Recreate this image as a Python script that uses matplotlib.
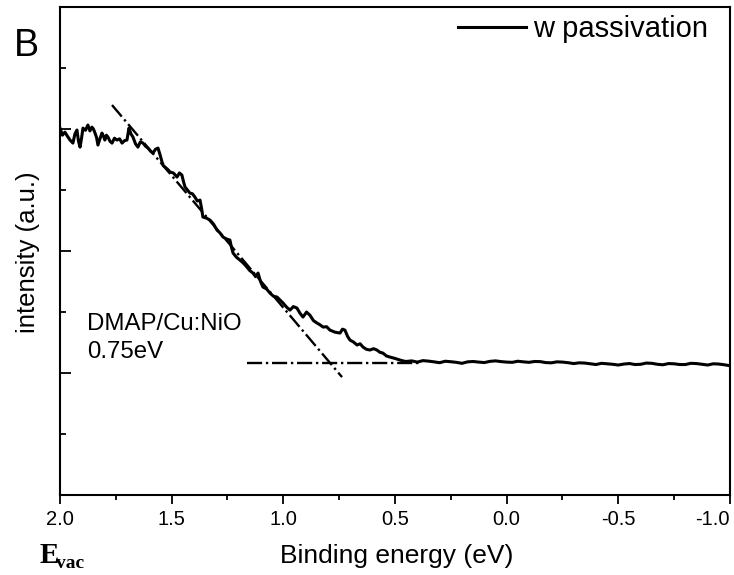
import matplotlib
matplotlib.use('Agg')
import matplotlib.pyplot as plt
from matplotlib.ticker import MultipleLocator, NullFormatter, FormatStrFormatter

plt.rcParams['font.family'] = ['Liberation Sans', 'DejaVu Sans']
plt.rcParams['axes.unicode_minus'] = False

# spectrum: binding energy (eV) and intensity (a.u.)
energy = [2.000, 1.989, 1.978, 1.966, 1.955, 1.942, 1.933, 1.924, 1.917, 1.910,
          1.903, 1.897, 1.886, 1.875, 1.866, 1.857, 1.850, 1.843, 1.836, 1.830,
          1.821, 1.812, 1.805, 1.799, 1.792, 1.785, 1.776, 1.767, 1.756, 1.745,
          1.733, 1.722, 1.711, 1.700, 1.691, 1.682, 1.673, 1.662, 1.651, 1.640,
          1.628, 1.617, 1.606, 1.595, 1.584, 1.572, 1.561, 1.552, 1.543, 1.537,
          1.530, 1.518, 1.507, 1.492, 1.476, 1.465, 1.454, 1.447, 1.440, 1.429,
          1.418, 1.407, 1.396, 1.385, 1.373, 1.366, 1.360, 1.344, 1.328, 1.312,
          1.297, 1.284, 1.270, 1.255, 1.239, 1.232, 1.225, 1.210, 1.194, 1.178,
          1.163, 1.150, 1.136, 1.124, 1.113, 1.102, 1.091, 1.075, 1.060, 1.044,
          1.028, 1.015, 1.001, 0.985, 0.970, 0.955, 0.939, 0.925, 0.912, 0.896,
          0.881, 0.865, 0.849, 0.835, 0.822, 0.806, 0.791, 0.768, 0.746, 0.735,
          0.724, 0.712, 0.701, 0.686, 0.670, 0.656, 0.643, 0.628, 0.612, 0.596,
          0.581, 0.567, 0.554, 0.538, 0.522, 0.500, 0.478, 0.460, 0.450, 0.425,
          0.400, 0.375, 0.350, 0.325, 0.300, 0.275, 0.250, 0.225, 0.200, 0.175,
          0.150, 0.125, 0.100, 0.075, 0.050, 0.025, 0.000, -0.025, -0.050, -0.075,
          -0.100, -0.125, -0.150, -0.175, -0.200, -0.225, -0.250, -0.275, -0.300, -0.325,
          -0.350, -0.375, -0.400, -0.425, -0.450, -0.475, -0.500, -0.525, -0.550, -0.575,
          -0.600, -0.625, -0.650, -0.675, -0.700, -0.725, -0.750, -0.775, -0.800, -0.825,
          -0.850, -0.875, -0.900, -0.925, -0.950, -0.975, -1.000]
intensity = [3.008, 2.950, 2.975, 2.940, 2.910, 2.885, 2.960, 2.992, 2.900, 2.852,
             2.930, 3.008, 2.990, 3.033, 2.985, 3.016, 3.000, 2.967, 2.930, 2.869,
             2.920, 2.967, 2.940, 2.910, 2.950, 2.934, 2.900, 2.885, 2.925, 2.910,
             2.920, 2.885, 2.905, 2.910, 3.008, 2.960, 2.934, 2.880, 2.852, 2.895,
             2.885, 2.860, 2.844, 2.820, 2.803, 2.835, 2.844, 2.790, 2.730, 2.700,
             2.689, 2.670, 2.648, 2.640, 2.607, 2.640, 2.623, 2.570, 2.525, 2.500,
             2.475, 2.470, 2.443, 2.410, 2.418, 2.350, 2.279, 2.270, 2.254, 2.220,
             2.172, 2.150, 2.115, 2.100, 2.090, 2.030, 1.984, 1.950, 1.926, 1.900,
             1.869, 1.840, 1.820, 1.790, 1.820, 1.750, 1.705, 1.690, 1.656, 1.630,
             1.623, 1.600, 1.574, 1.540, 1.516, 1.545, 1.533, 1.490, 1.459, 1.500,
             1.475, 1.430, 1.410, 1.395, 1.377, 1.380, 1.352, 1.335, 1.328, 1.360,
             1.352, 1.300, 1.270, 1.255, 1.230, 1.240, 1.213, 1.195, 1.189, 1.200,
             1.189, 1.170, 1.164, 1.140, 1.131, 1.120, 1.107, 1.098, 1.095, 1.100,
             1.090, 1.102, 1.098, 1.092, 1.085, 1.097, 1.093, 1.088, 1.080, 1.092,
             1.095, 1.090, 1.086, 1.096, 1.100, 1.094, 1.090, 1.088, 1.097, 1.092,
             1.088, 1.095, 1.094, 1.086, 1.084, 1.092, 1.090, 1.085, 1.078, 1.084,
             1.082, 1.076, 1.070, 1.080, 1.076, 1.072, 1.066, 1.074, 1.078, 1.070,
             1.072, 1.082, 1.080, 1.072, 1.068, 1.078, 1.076, 1.070, 1.070, 1.080,
             1.078, 1.072, 1.066, 1.076, 1.074, 1.068, 1.060]

# fit lines (dash-dot): leading edge tangent and background level
tangent_e = [1.767, 0.737]
tangent_i = [3.197, 0.967]
base_e = [1.163, 0.388]
base_i = [1.082, 1.082]

fig = plt.figure(figsize=(7.34, 5.75), dpi=100)
ax = fig.add_axes([0.0817, 0.139, 0.9128, 0.8487])

ax.plot(energy, intensity, color='black', lw=2.2, label='w passivation')
ax.plot(tangent_e, tangent_i, color='black', lw=1.7, ls='-.')
ax.plot(base_e, base_i, color='black', lw=1.7, ls='-.')

ax.set_xlim(2.0, -1.0)
ax.set_ylim(0, 4)
ax.set_xticks([2.0, 1.5, 1.0, 0.5, 0.0, -0.5, -1.0])
ax.xaxis.set_minor_locator(MultipleLocator(0.25))
ax.xaxis.set_major_formatter(FormatStrFormatter('%.1f'))
ax.yaxis.set_major_locator(MultipleLocator(1))
ax.yaxis.set_minor_locator(MultipleLocator(0.5))
ax.yaxis.set_major_formatter(NullFormatter())
ax.tick_params(axis='x', which='major', direction='out', length=6.5, width=1.3,
               labelsize=14.5, pad=4)
ax.tick_params(axis='x', which='minor', direction='out', length=3.3, width=1.3)
ax.tick_params(axis='y', which='major', direction='in', length=8, width=1.3)
ax.tick_params(axis='y', which='minor', direction='in', length=4.3, width=1.3)
for s in ax.spines.values():
    s.set_linewidth(1.5)

ax.set_xlabel('Binding energy (eV)', fontsize=19)
ax.xaxis.set_label_coords(0.503, -0.1)
ax.set_ylabel('intensity (a.u.)', fontsize=18.5)
ax.yaxis.set_label_coords(-0.03, 0.498)

ax.text(0.0403, 0.338, 'DMAP/Cu:NiO', transform=ax.transAxes, fontsize=17.3, va='baseline')
ax.text(0.0403, 0.281, '0.75eV', transform=ax.transAxes, fontsize=17.3, va='baseline')

ax.legend(loc='center right', bbox_to_anchor=(0.967, 0.955), frameon=False,
          fontsize=21, handlelength=2.34, handletextpad=0.24, borderpad=0,
          borderaxespad=0)

fig.text(14 / 734, (575 - 56) / 575, 'B', fontsize=27, va='baseline')
fig.text(40 / 734, (575 - 563) / 575, 'E', fontsize=21, fontweight='bold',
         family='Liberation Serif', va='baseline')
fig.text(56 / 734, (575 - 568) / 575, 'vac', fontsize=14, fontweight='bold',
         family='Liberation Serif', va='baseline')

# keep the last tick label inside the picture, as in the original
ax.xaxis.get_major_ticks()[-1].label1.set_horizontalalignment('right')

plt.savefig('out.png', dpi=100)
